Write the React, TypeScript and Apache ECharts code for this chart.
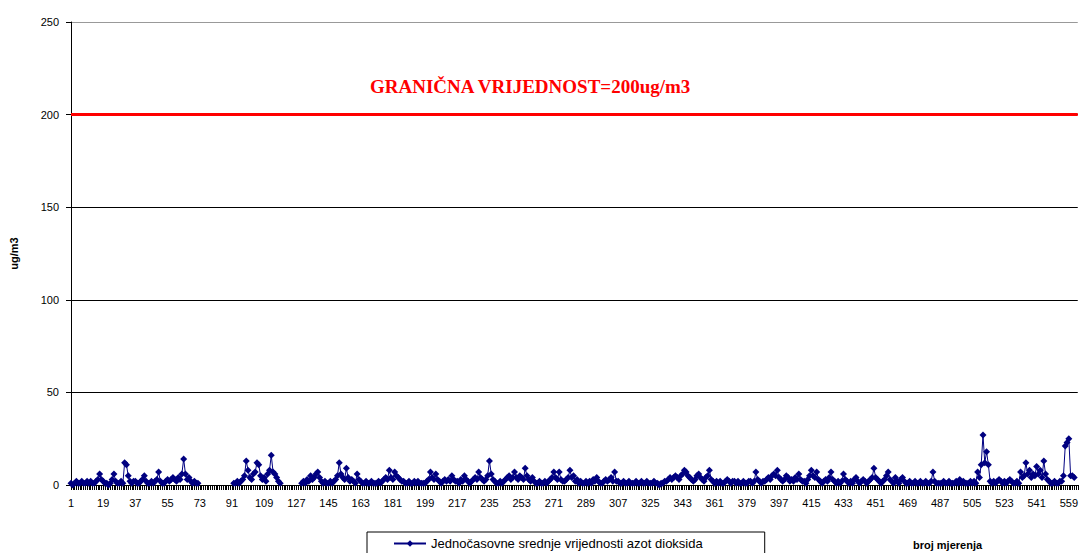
import React, { useEffect, useRef } from "react";
import * as echarts from "echarts";

const N = 564;
const categories: string[] = Array.from({ length: N }, (_, i) => String(i + 1));

const _ = null;
const r0 = [1, 0, 1, 2, 1, 1, 2, 1, 1, 2, 1, 2, 1, 1, 2, 3, 6, 3];
const r1 = [2, 1, 1, 0, 1, 3, 6, 2, 1, 1, 2, 1, 12, 11, 5, 2, 1, 2];
const r2 = [2, 1, 1, 2, 3, 5, 2, 1, 1, 2, 1, 2, 3, 7, 2, 1, 1, 2];
const r3 = [3, 2, 3, 4, 3, 2, 4, 3, 6, 14, 6, 3, 4, 2, 1, 2, 1, 1];
const r4 = [_, _, _, _, _, _, _, _, _, _, _, _, _, _, _, _, _, _];
const r5 = [_, 1, 1, 2, 1, 2, 3, 5, 13, 8, 4, 3, 6, 7, 12, 11, 5, 3];
const r6 = [4, 2, 6, 8, 16, 7, 6, 4, 2, 1, _, _, _, _, _, _, _, _];
const r7 = [_, _, _, 1, 2, 1, 3, 2, 5, 3, 4, 6, 7, 4, 2, 1, 2, 1];
const r8 = [1, 2, 1, 2, 3, 5, 12, 6, 4, 3, 9, 4, 2, 3, 2, 1, 6, 3];
const r9 = [2, 1, 1, 2, 1, 1, 2, 1, 1, 1, 2, 1, 2, 3, 4, 3, 8, 4];
const r10 = [3, 7, 5, 4, 3, 2, 2, 1, 1, 2, 1, 1, 2, 1, 2, 1, 1, 1];
const r11 = [1, 2, 3, 7, 4, 3, 6, 3, 2, 1, 2, 3, 2, 3, 2, 5, 3, 2];
const r12 = [2, 1, 3, 2, 5, 3, 2, 1, 2, 3, 4, 3, 7, 4, 3, 2, 3, 5];
const r13 = [13, 6, 3, 2, 1, 1, 2, 1, 2, 3, 4, 5, 3, 4, 7, 4, 3, 5];
const r14 = [4, 3, 9, 5, 3, 2, 4, 2, 1, 1, 2, 1, 1, 2, 1, 2, 3, 4];
const r15 = [7, 4, 3, 7, 3, 2, 2, 3, 4, 8, 4, 5, 2, 3, 1, 2, 1, 1];
const r16 = [2, 1, 2, 1, 3, 2, 4, 2, 1, 1, 2, 3, 2, 3, 4, 2, 7, 2];
const r17 = [2, 1, 1, 2, 1, 1, 2, 1, 1, 1, 2, 1, 1, 2, 1, 1, 2, 1];
const r18 = [1, 1, 2, 1, 1, 0, 1, 1, 2, 2, 3, 4, 3, 4, 5, 4, 3, 5];
const r19 = [6, 8, 7, 5, 4, 3, 2, 3, 5, 6, 4, 3, 2, 4, 5, 8, 3, 2];
const r20 = [1, 2, 1, 2, 1, 1, 2, 3, 2, 1, 2, 2, 1, 2, 1, 1, 2, 1];
const r21 = [1, 2, 2, 1, 2, 7, 3, 2, 1, 2, 2, 3, 4, 3, 5, 6, 5, 8];
const r22 = [4, 3, 2, 3, 5, 4, 2, 3, 2, 4, 3, 6, 3, 2, 2, 1, 3, 5];
const r23 = [8, 5, 4, 7, 3, 2, 1, 2, 3, 2, 4, 7, 3, 2, 1, 2, 1, 2];
const r24 = [6, 3, 2, 1, 2, 1, 3, 4, 2, 1, 2, 3, 2, 1, 2, 3, 4, 9];
const r25 = [4, 3, 2, 1, 2, 3, 5, 7, 3, 2, 1, 4, 2, 1, 3, 4, 2, 1];
const r26 = [1, 2, 1, 1, 2, 1, 1, 2, 1, 1, 2, 1, 1, 2, 7, 2, 1, 1];
const r27 = [1, 1, 2, 1, 1, 2, 1, 1, 1, 2, 1, 3, 1, 2, 1, 1, 1, 2];
const r28 = [1, 2, 1, 7, 4, 11, 27, 12, 18, 11, 2, 1, 2, 1, 2, 3, 2, 1];
const r29 = [2, 1, 2, 3, 2, 1, 1, 2, 1, 7, 4, 5, 12, 6, 8, 4, 6, 5];
const r30 = [10, 6, 8, 4, 13, 6, 3, 2, 1, 1, 2, 1, 1, 2, 2, 5, 21, 23];
const r31 = [25, 5, 5, 4];

const no2Values: (number | null)[] = [
  ...r0, ...r1, ...r2, ...r3, ...r4, ...r5, ...r6, ...r7, ...r8, ...r9,
  ...r10, ...r11, ...r12, ...r13, ...r14, ...r15, ...r16, ...r17, ...r18, ...r19,
  ...r20, ...r21, ...r22, ...r23, ...r24, ...r25, ...r26, ...r27, ...r28, ...r29,
  ...r30, ...r31,
];

const LIMIT = 200;
const seriesName = "Jednočasovne srednje vrijednosti azot dioksida";
const limitLabel = "GRANIČNA VRIJEDNOST=200ug/m3";
const xName = "broj mjerenja";
const yName = "ug/m3";

const SANS = "Arial, 'Liberation Sans', sans-serif";
const SERIF = "'Times New Roman', 'Liberation Serif', serif";

export default function App() {
  const ref = useRef<HTMLDivElement>(null);
  useEffect(() => {
    if (!ref.current) return;
    const chart = echarts.init(ref.current, undefined, { renderer: "svg" });
    chart.setOption({
      animation: false,
      backgroundColor: "#fff",
      grid: { left: 71, top: 22, right: 3, bottom: 68, containLabel: false },
      xAxis: {
        type: "category",
        data: categories,
        boundaryGap: false,
        axisLine: { lineStyle: { color: "#000", width: 1 } },
        axisTick: { interval: 0, length: 5, lineStyle: { color: "#000" } },
        axisLabel: {
          interval: 17,
          color: "#000",
          fontFamily: SANS,
          fontSize: 11,
          margin: 12,
        },
        splitLine: { show: false },
      },
      yAxis: {
        type: "value",
        min: 0,
        max: 250,
        interval: 50,
        name: yName,
        nameLocation: "middle",
        nameRotate: 90,
        nameGap: 52,
        nameTextStyle: { fontFamily: SANS, fontSize: 11, fontWeight: "bold", color: "#000" },
        axisLine: { show: true, lineStyle: { color: "#000" } },
        axisTick: { show: true, length: 5, lineStyle: { color: "#000" } },
        axisLabel: { color: "#000", fontFamily: SANS, fontSize: 11, margin: 12 },
        splitLine: { show: true, lineStyle: { color: ["#000", "#000", "#000", "#000", "#000", "#999"], width: 1 } },
      },
      legend: {
        left: 367,
        top: 532,
        data: [seriesName],
        borderColor: "#000",
        borderWidth: 1,
        borderRadius: 0,
        padding: [5, 62, 12, 26],
        itemWidth: 32,
        itemHeight: 8,
        itemGap: 4,
        textStyle: { fontFamily: SANS, fontSize: 13, color: "#000" },
      },
      graphic: [
        {
          type: "text",
          left: 370,
          top: 77,
          style: {
            text: limitLabel,
            fill: "#ff0000",
            font: `bold 19px ${SERIF}`,
          },
        },
        {
          type: "text",
          left: 913,
          top: 539,
          style: {
            text: xName,
            fill: "#000",
            font: `bold 11px ${SANS}`,
          },
        },
      ],
      series: [
        {
          name: seriesName,
          type: "line",
          data: no2Values,
          connectNulls: false,
          symbol: "diamond",
          symbolSize: 7,
          showSymbol: true,
          showAllSymbol: true,
          color: "#000080",
          itemStyle: { color: "#000080" },
          lineStyle: { color: "#000080", width: 1 },
          markLine: {
            silent: true,
            symbol: "none",
            label: { show: false },
            lineStyle: { color: "#ff0000", width: 3, type: "solid" },
            data: [{ yAxis: LIMIT }],
          },
        },
      ],
    });
    return () => chart.dispose();
  }, []);
  return (
    <div
      ref={ref}
      style={{ position: "fixed", left: 0, top: 0, width: 1081, height: 553, background: "#fff" }}
    />
  );
}
